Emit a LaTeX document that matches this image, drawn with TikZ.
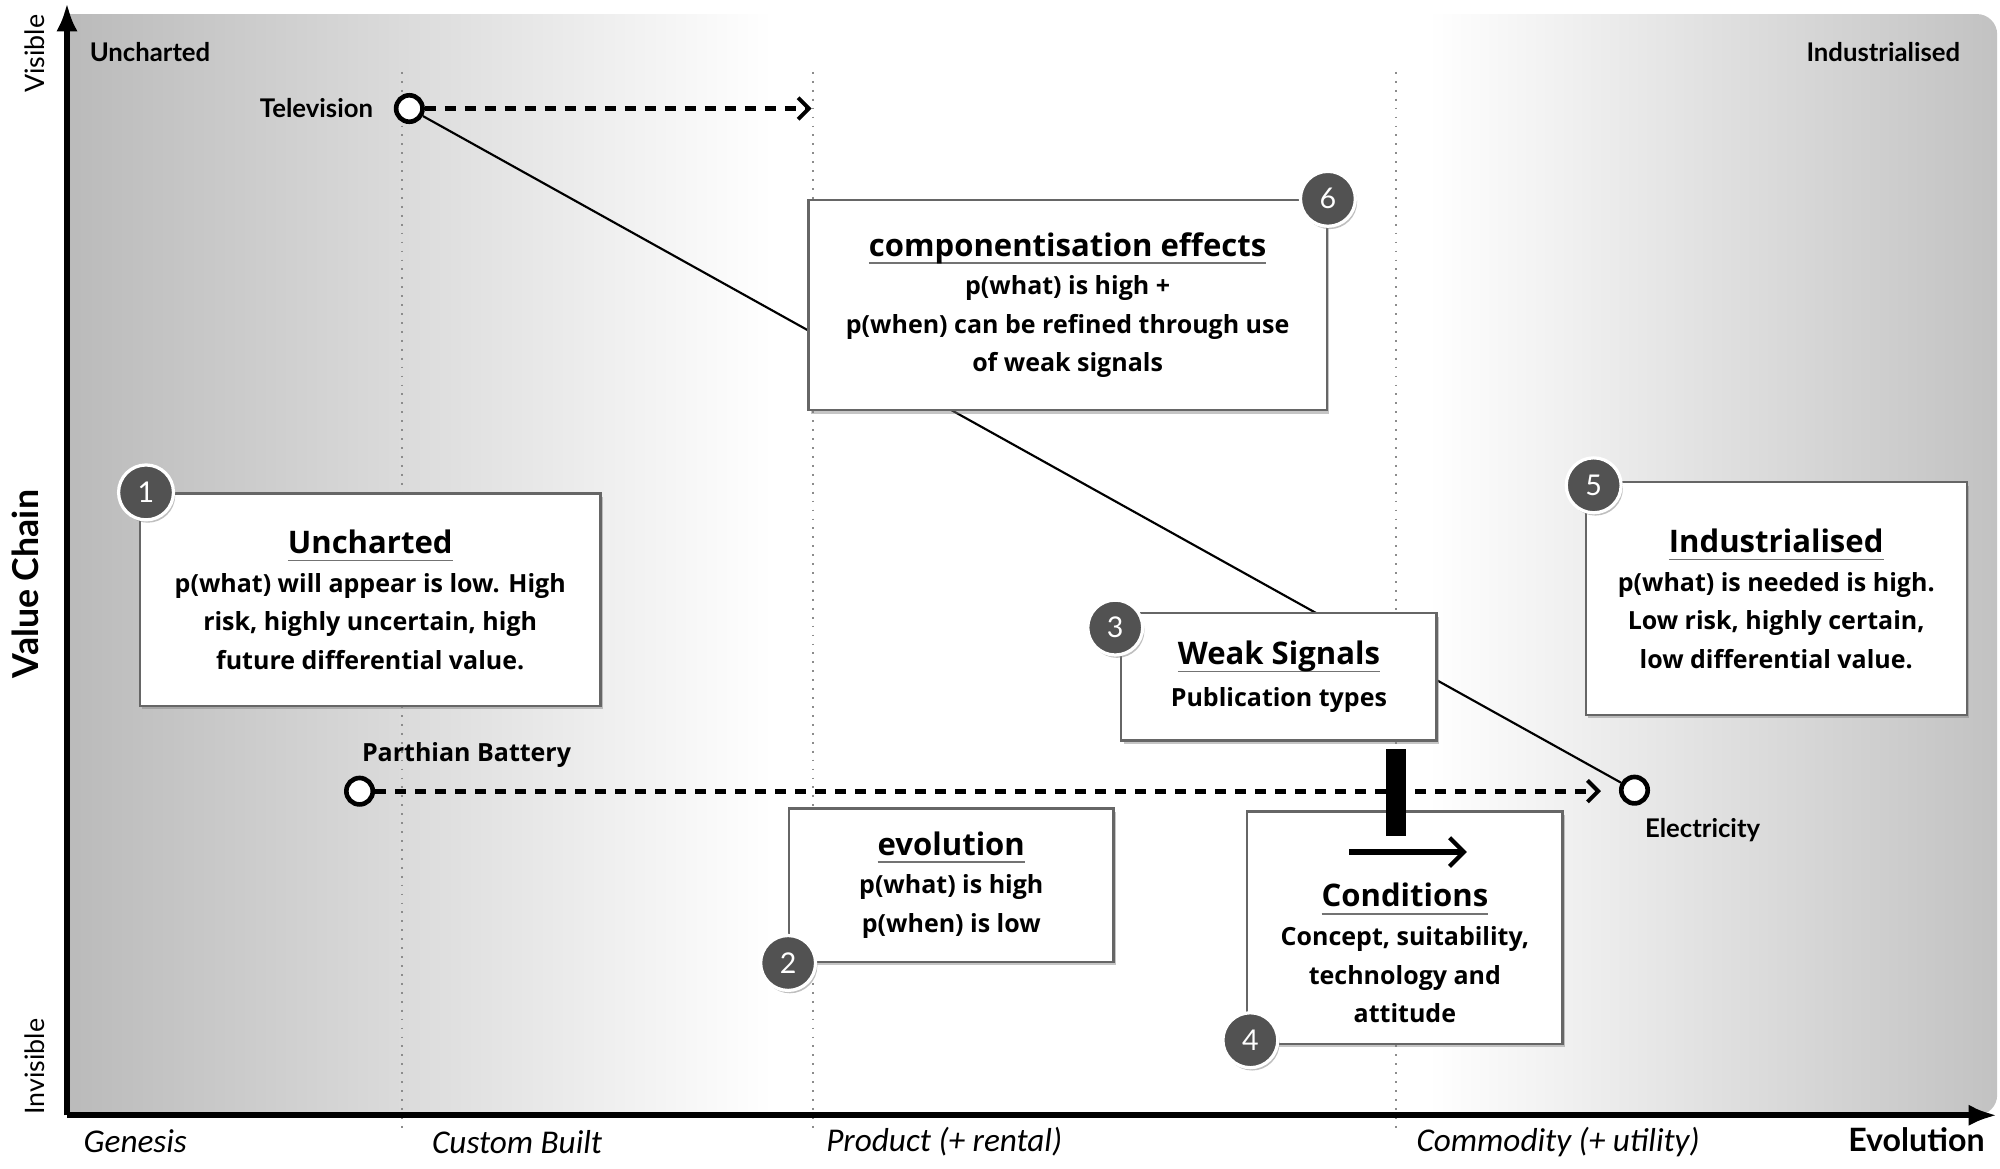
\documentclass[tikz,border=0pt]{standalone}
\usepackage{fontspec}
\setmainfont{Lato}
\newfontfamily\chalkfont{Open Sans}
\newfontfamily\stagefont{Carlito}
\usetikzlibrary{shapes, arrows.meta, positioning, calc, shadows}

\newcommand{\boxtitle}[1]{{\fontsize{8.7}{11}\selectfont
  \setbox0\hbox{#1}\rlap{\color{black!55}\rule[-2.2pt]{\wd0}{0.5pt}}\box0}}

\begin{document}
\begin{tikzpicture}
  [x=0.01cm, y=-0.01cm,
  % box
  box/.style = {rectangle,
    draw=black!60, fill=white, line width=0.6pt,
    drop shadow={shadow xshift=0.6pt, shadow yshift=-0.9pt, opacity=0.45},
    align=center, inner sep=2pt,
    font=\chalkfont\bfseries\fontsize{7}{10.8}\selectfont},
  % badge
  badge/.style = {circle,
    minimum size=0.54cm, inner sep=0pt,
    fill=black!68, draw=white, line width=0.9pt, text=white,
    drop shadow={shadow xshift=0.5pt, shadow yshift=-0.8pt, opacity=0.5},
    font=\fontsize{8}{8}\selectfont},
  % point
  point/.style = {circle,
    draw, fill=white, line width=1.3pt,
    minimum size=0.26cm, inner sep=0pt},
  % lines
  line/.style = {draw, line width=0.6pt},
  future/.style = {draw, line width=1.3pt, dash pattern=on 3pt off 2.6pt,
    -{Straight Barb[length=3pt, width=6pt, line width=1.1pt]}},
  axis/.style = {draw, line width=1.6pt, -{Latex[length=8pt, width=6pt]}},
  stage/.style = {draw=black!45, dotted, line width=0.5pt},
  % labels
  tag/.style = {font=\bfseries\fontsize{7.2}{9}\selectfont},
  chalktag/.style = {font=\chalkfont\bfseries\fontsize{7}{9}\selectfont},
  stagetag/.style = {anchor=west, font=\stagefont\itshape\fontsize{9.3}{10}\selectfont},
  ]

  % backdrop
  \begin{scope}
    \clip (80,1107) -- (80,23) [rounded corners=2mm] -- (1980,23) -- (1980,1107) [sharp corners] -- cycle;
    \shade [left color=black!27, right color=white] (80,23) rectangle (775,1107);
    \fill [white] (775,23) rectangle (1420,1107);
    \shade [left color=white, right color=black!24] (1420,23) rectangle (1980,1107);
  \end{scope}

  % stages
  \foreach \sx in {410, 814, 1388}
    \path [stage] (\sx,80) -- (\sx,1122);

  % axes
  \coordinate (origin) at (80,1107);
  \coordinate (ytop) at (80,12);
  \coordinate (xend) at (1980,1107);
  \path [axis] (origin) -- (ytop);
  \path [axis] (origin) -- (xend);

  \node [rotate=90, font=\fontsize{7.5}{9}\selectfont] (visible) at (48,62) {Visible};
  \node [rotate=90, font=\fontsize{7.5}{9}\selectfont] (invisible) at (48,1059) {Invisible};
  \node [rotate=90, font=\bfseries\fontsize{10}{12}\selectfont] (chain) at (39,584) {Value Chain};
  \node [tag, anchor=west] (uncharted) at (90,60) {Uncharted};
  \node [tag, anchor=east] (industrial) at (1956,60) {Industrialised};

  \node [stagetag] (genesis) at (84,1133) {Genesis};
  \node [stagetag] (custom) at (427,1133) {Custom Built};
  \node [stagetag] (product) at (815,1133) {Product (+ rental)};
  \node [stagetag] (commodity) at (1396,1133) {Commodity (+ utility)};
  \node [anchor=east, font=\bfseries\fontsize{9}{10}\selectfont] (evolution) at (1980,1131) {Evolution};

  % points
  \node [point] (tv) at (417,116) {};
  \node [point] (elec) at (1623,787) {};
  \node [point] (pb) at (368,788) {};
  \node [tag, left=0.08cm of tv] (tvlbl) {Television};
  \node [tag, anchor=north west] (eleclbl) at (1621,802) {Electricity};
  \node [chalktag, anchor=west] (pblbl) at (358,752) {Parthian Battery};

  \coordinate (tvend) at (813,116);
  \coordinate (pbend) at (1590,788);
  \path [line] (tv) -- (elec);
  \path [future] (tv) -- (tvend);
  \path [future] (pb) -- (pbend);

  % boxes
  \node [box, minimum width=5.1cm, minimum height=2.07cm] (compo) at (1065,309.5)
    {\boxtitle{componentisation effects}\\ p(what) is high +\\ p(when) can be refined through use\\ of weak signals};
  \node [box, minimum width=4.53cm, minimum height=2.09cm] (unch) at (378.5,599.5)
    {\boxtitle{Uncharted}\\ p(what) will appear is low. High\\ risk, highly uncertain, high\\ future differential value.};
  \node [box, minimum width=3.75cm, minimum height=2.29cm] (indus) at (1762.5,598.5)
    {\boxtitle{Industrialised}\\ p(what) is needed is high.\\ Low risk, highly certain,\\ low differential value.};
  \node [box, minimum width=3.1cm, minimum height=1.25cm] (weak) at (1273,675.5)
    {\boxtitle{Weak Signals}\\[1pt] Publication types};
  \node [box, minimum width=3.19cm, minimum height=1.51cm] (evol) at (950.5,880.5)
    {\boxtitle{evolution}\\ p(what) is high\\ p(when) is low};
  \node [box, minimum width=3.1cm, minimum height=2.29cm] (cond) at (1397,922.5)
    {\mbox{}\\[10pt] \boxtitle{Conditions}\\ Concept, suitability,\\ technology and\\ attitude};

  % badges
  \node [badge] (n6) at (compo.north east) {6};
  \node [badge] (n1) at ([xshift=0.07cm]unch.north west) {1};
  \node [badge] (n5) at ([xshift=0.09cm, yshift=-0.04cm]indus.north west) {5};
  \node [badge] (n3) at ([xshift=-0.05cm, yshift=-0.15cm]weak.north west) {3};
  \node [badge] (n2) at (evol.south west) {2};
  \node [badge] (n4) at ([xshift=0.04cm, yshift=0.05cm]cond.south west) {4};

  % signal bar and arrow
  \fill (1378,746) rectangle (1398,832);
  \coordinate (condfrom) at ($(cond.north)+(-55,41)$);
  \coordinate (condto) at ($(cond.north)+(61,41)$);
  \path [draw, line width=1.6pt, -{Straight Barb[length=4pt, width=8pt, line width=1.2pt]}] (condfrom) -- (condto);

\end{tikzpicture}
\end{document}
